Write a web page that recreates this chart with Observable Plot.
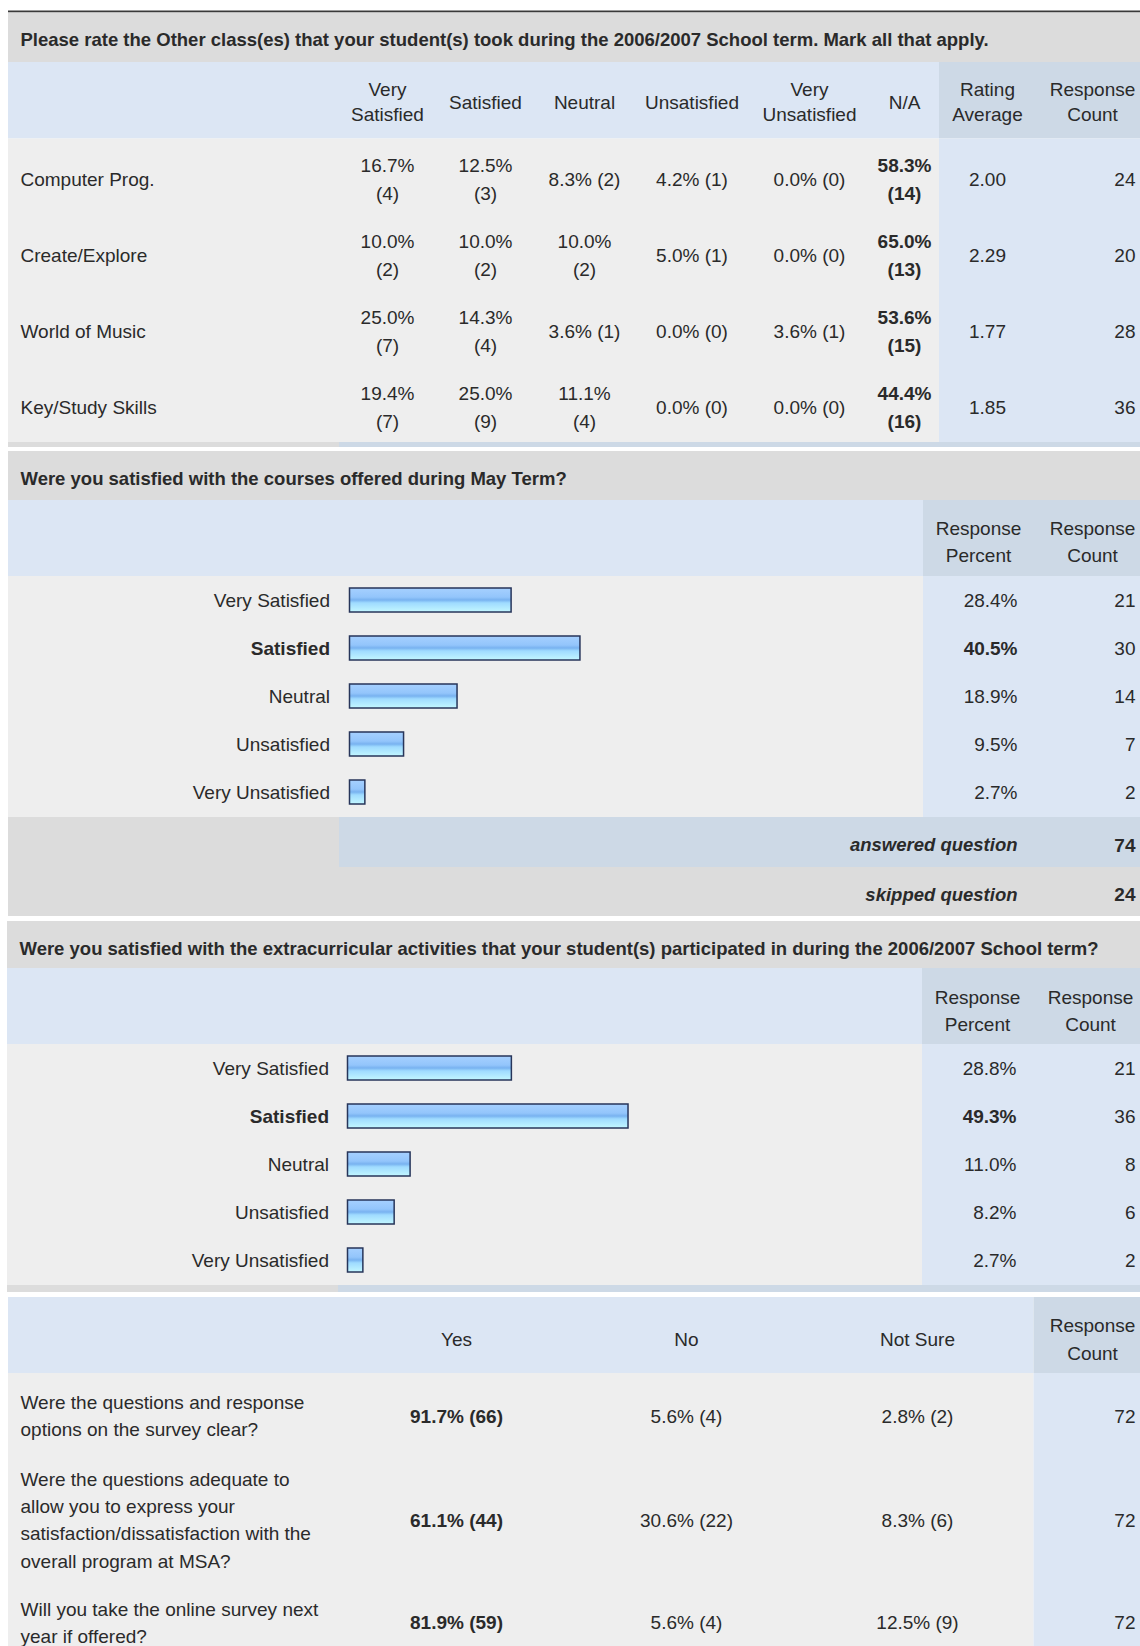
<!DOCTYPE html>
<html>
<head>
<meta charset="utf-8">
<script src="https://cdn.jsdelivr.net/npm/d3@7"></script>
<script src="https://cdn.jsdelivr.net/npm/@observablehq/plot@0.6"></script>
<style>
  html, body { margin: 0; padding: 0; background: #ffffff; }
  #chart { position: relative; width: 1140px; height: 1646px; overflow: hidden; background: #ffffff; }
  #chart svg { position: absolute; left: 0; top: 0; }
</style>
</head>
<body>
<div id="chart"></div>
<script>
// ---------------- DATA ----------------
const q1Title = "Please rate the Other class(es) that your student(s) took during the 2006/2007 School term. Mark all that apply.";
const q1Columns = ["Very Satisfied", "Satisfied", "Neutral", "Unsatisfied", "Very Unsatisfied", "N/A"];
const q1Headers = ["Very\nSatisfied", "Satisfied", "Neutral", "Unsatisfied", "Very\nUnsatisfied", "N/A", "Rating\nAverage", "Response\nCount"];
const q1Classes = ["Computer Prog.", "Create/Explore", "World of Music", "Key/Study Skills"];
const q1Percent = [
  [16.7, 12.5, 8.3, 4.2, 0.0, 58.3],
  [10.0, 10.0, 10.0, 5.0, 0.0, 65.0],
  [25.0, 14.3, 3.6, 0.0, 3.6, 53.6],
  [19.4, 25.0, 11.1, 0.0, 0.0, 44.4]
];
const q1Counts = [
  [4, 3, 2, 1, 0, 14],
  [2, 2, 2, 1, 0, 13],
  [7, 4, 1, 0, 1, 15],
  [7, 9, 4, 0, 0, 16]
];
const q1RatingAverage = [2.00, 2.29, 1.77, 1.85];
const q1ResponseCount = [24, 20, 28, 36];

const scaleLabels = ["Very Satisfied", "Satisfied", "Neutral", "Unsatisfied", "Very Unsatisfied"];
const barHeaders = ["Response\nPercent", "Response\nCount"];

const q2Title = "Were you satisfied with the courses offered during May Term?";
const q2Percent = [28.4, 40.5, 18.9, 9.5, 2.7];
const q2Count = [21, 30, 14, 7, 2];
const q2Answered = 74;
const q2Skipped = 24;

const q3Title = "Were you satisfied with the extracurricular activities that your student(s) participated in during the 2006/2007 School term?";
const q3Percent = [28.8, 49.3, 11.0, 8.2, 2.7];
const q3Count = [21, 36, 8, 6, 2];

const q4Columns = ["Yes", "No", "Not Sure"];
const q4Questions = [
  ["Were the questions and response", "options on the survey clear?"],
  ["Were the questions adequate to", "allow you to express your", "satisfaction/dissatisfaction with the", "overall program at MSA?"],
  ["Will you take the online survey next", "year if offered?"]
];
const q4Percent = [
  [91.7, 5.6, 2.8],
  [61.1, 30.6, 8.3],
  [81.9, 5.6, 12.5]
];
const q4Counts = [
  [66, 4, 2],
  [44, 22, 6],
  [59, 4, 9]
];
const q4ResponseCount = [72, 72, 72];

// ---------------- STYLE / LAYOUT ----------------
const W = 1140, H = 1646;
const FONT = "'Liberation Sans', Arial, Helvetica, sans-serif";
const INK = "#2a2a2a";
const FS = 19, FS_TITLE = 18.5;
const C = {title: "#dcdcdc", head: "#dce6f4", head2: "#cdd9e6", body: "#eeeeee", bodyR: "#dce6f4", line: "#3a3a3a"};

const L1 = {colX: [387, 485, 584, 691.5, 809, 904, 987, 1092], rowY0: 176.5, rowStep: 76, headY: 100};
const L2 = {barX0: 349.5, barX1: 918.5, y0: 576, y1: 817, pctRight: 1017, countRight: 1135, labelGap: 20};
const L3 = {barX0: 347.5, barX1: 916.5, y0: 1044, y1: 1285, pctRight: 1016, countRight: 1135, labelGap: 19};
const L4 = {colX: [456, 686, 917], countX: 1092, headY: 1336.5, rowY: [1413.5, 1517.5, 1620]};

const fmtPct = v => v.toFixed(1) + "%";

// background panels (layout)
const panels = [
  [8, W, 10.5, 12.5, C.line],
  [8, W, 12.5, 62, C.title],
  [8, 939, 62, 138.5, C.head], [939, W, 62, 138.5, C.head2],
  [8, 939, 138.5, 442, C.body], [939, W, 138.5, 442, C.bodyR],
  [8, 339, 442, 447, C.title], [339, W, 442, 447, C.head2],

  [8, W, 451, 500, C.title],
  [8, 923, 500, 576, C.head], [923, W, 500, 576, C.head2],
  [8, 923, 576, 817, C.body], [923, W, 576, 817, C.bodyR],
  [8, 339, 817, 867, C.title], [339, W, 817, 867, C.head2],
  [8, W, 867, 916, C.title],

  [7, W, 921, 968, C.title],
  [7, 922, 968, 1044, C.head], [922, W, 968, 1044, C.head2],
  [7, 922, 1044, 1285, C.body], [922, W, 1044, 1285, C.bodyR],
  [7, 338, 1285, 1292, C.title], [338, W, 1285, 1292, C.head2],

  [8, 1033.5, 1297, 1373, C.head], [1033.5, W, 1297, 1373, C.head2],
  [8, 1033.5, 1373, H, C.body], [1033.5, W, 1373, H, C.bodyR]
].map(([x1, x2, y1, y2, fill]) => ({x1, x2, y1, y2, fill}));

// text items for the table parts
const items = [];
const T = (x, y, text, o = {}) => items.push({x, y, text, anchor: o.anchor || "middle", weight: o.weight || "normal",
  italic: !!o.italic, size: o.size || FS, lh: o.lh || 1.4});

// Section 1
T(20, 37.3, q1Title, {anchor: "start", weight: "bold", size: FS_TITLE});
q1Headers.forEach((h, i) => T(L1.colX[i], L1.headY, h, {lh: 25 / FS}));
q1Classes.forEach((cls, r) => {
  const y = L1.rowY0 + r * L1.rowStep;
  const max = d3.max(q1Percent[r]);
  T(20, y, cls, {anchor: "start"});
  q1Columns.forEach((col, c) => {
    const one = `${fmtPct(q1Percent[r][c])} (${q1Counts[r][c]})`;
    const text = one.length > 8 ? `${fmtPct(q1Percent[r][c])}\n(${q1Counts[r][c]})` : one;
    T(L1.colX[c], y, text, {weight: q1Percent[r][c] === max ? "bold" : "normal", lh: 28.5 / FS});
  });
  T(L1.colX[6], y, q1RatingAverage[r].toFixed(2));
  T(1135, y, String(q1ResponseCount[r]), {anchor: "end"});
});

// Section 2 (table text)
T(20, 476.5, q2Title, {anchor: "start", weight: "bold", size: FS_TITLE});
T(978, 539, barHeaders[0], {lh: 27.5 / FS});
T(1092, 539, barHeaders[1], {lh: 27.5 / FS});
T(L2.pctRight, 842.5, "answered question", {anchor: "end", weight: "bold", italic: true, size: FS_TITLE});
T(1135, 842.5, String(q2Answered), {anchor: "end", weight: "bold"});
T(L2.pctRight, 892, "skipped question", {anchor: "end", weight: "bold", italic: true, size: FS_TITLE});
T(1135, 892, String(q2Skipped), {anchor: "end", weight: "bold"});

// Section 3 (table text)
T(19, 946.5, q3Title, {anchor: "start", weight: "bold", size: FS_TITLE});
T(977, 1008, barHeaders[0], {lh: 27.5 / FS});
T(1090, 1008, barHeaders[1], {lh: 27.5 / FS});

// Section 4
q4Columns.forEach((h, i) => T(L4.colX[i], L4.headY, h));
T(L4.countX, L4.headY, "Response\nCount", {lh: 27.5 / FS});
q4Questions.forEach((lines, r) => {
  const y = L4.rowY[r];
  const max = d3.max(q4Percent[r]);
  T(20, y, lines.join("\n"), {anchor: "start", lh: 27.2 / FS});
  q4Columns.forEach((col, c) => {
    T(L4.colX[c], y, `${fmtPct(q4Percent[r][c])} (${q4Counts[r][c]})`, {weight: q4Percent[r][c] === max ? "bold" : "normal"});
  });
  T(1135, y, String(q4ResponseCount[r]), {anchor: "end"});
});

function textMarks(list) {
  return d3.groups(list, d => [d.anchor, d.weight, d.italic, d.size, d.lh].join("|")).map(([, arr]) => {
    const d0 = arr[0];
    return Plot.text(arr, {
      x: "x", y: "y", text: "text", textAnchor: d0.anchor, fontWeight: d0.weight,
      fontStyle: d0.italic ? "italic" : "normal", fontSize: d0.size, lineHeight: d0.lh,
      fontFamily: FONT, fill: INK
    });
  });
}

const main = Plot.plot({
  width: W, height: H,
  margin: 0,
  style: {background: "transparent", fontFamily: FONT},
  x: {type: "identity", axis: null},
  y: {type: "identity", axis: null},
  marks: [
    Plot.rect(panels, {x1: "x1", x2: "x2", y1: "y1", y2: "y2", fill: d => d.fill}),
    ...textMarks(items)
  ]
});

// Bar sections: Plot's own linear x scale for percent, band y scale for answer categories
function barSection(percent, count, L) {
  const max = d3.max(percent);
  const rows = scaleLabels.map((label, i) => ({
    label, pct: percent[i], pctText: fmtPct(percent[i]), count: String(count[i]), top: percent[i] === max
  }));
  const common = {y: "label", fontFamily: FONT, fontSize: FS, fill: INK};
  const group = (data, weight) => [
    Plot.text(data, {...common, text: "label", frameAnchor: "left", textAnchor: "end", dx: -L.labelGap, fontWeight: weight}),
    Plot.text(data, {...common, text: "pctText", frameAnchor: "right", textAnchor: "end", dx: L.pctRight - L.barX1, fontWeight: weight})
  ];
  const svg = Plot.plot({
    width: W, height: H,
    marginLeft: L.barX0, marginRight: W - L.barX1, marginTop: L.y0, marginBottom: H - L.y1,
    style: {background: "transparent", fontFamily: FONT},
    x: {domain: [0, 100], axis: null},
    y: {domain: scaleLabels, axis: null, paddingInner: 0.49, paddingOuter: 0.255},
    marks: [
      Plot.barX(rows, {x: "pct", y: "label", fill: "url(#barGrad)", stroke: "#27355a", strokeWidth: 1.5}),
      ...group(rows.filter(d => !d.top), "normal"),
      ...group(rows.filter(d => d.top), "bold"),
      Plot.text(rows, {...common, text: "count", frameAnchor: "right", textAnchor: "end", dx: L.countRight - L.barX1})
    ]
  });
  return svg;
}

const bars2 = barSection(q2Percent, q2Count, L2);
const bars3 = barSection(q3Percent, q3Count, L3);

const gradient = `<linearGradient id="barGrad" x1="0" y1="0" x2="0" y2="1">
  <stop offset="0" stop-color="#a6d0ff"/>
  <stop offset="0.38" stop-color="#93c5fb"/>
  <stop offset="0.5" stop-color="#78b2f0"/>
  <stop offset="0.62" stop-color="#9fdbff"/>
  <stop offset="1" stop-color="#c3f7ff"/>
</linearGradient>`;
d3.select(bars2).insert("defs", ":first-child").html(gradient);

const chart = document.getElementById("chart");
chart.appendChild(main);
chart.appendChild(bars2);
chart.appendChild(bars3);
</script>
</body>
</html>
